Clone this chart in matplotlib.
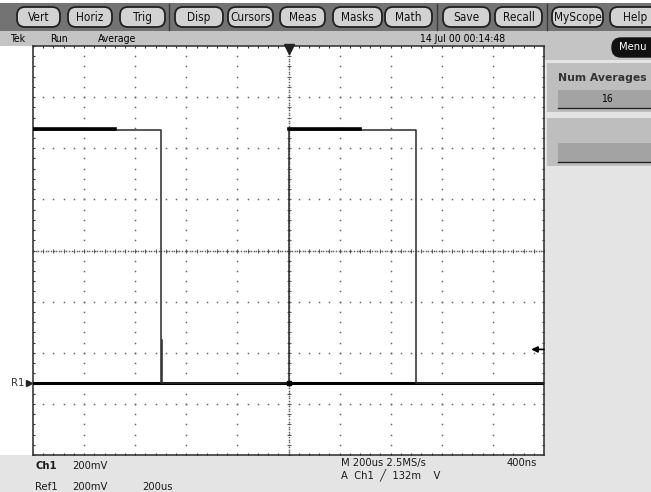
import matplotlib
matplotlib.use("Agg")
import matplotlib.pyplot as plt
from matplotlib.patches import Rectangle, FancyBboxPatch
import numpy as np

# ---- waveform data (time in us, level in V) ----
ch1_time = [-1000, -500, -500, 0, 0, 500, 500, 1000]
ch1_volts = [0.99, 0.99, 0.0, 0.0, 0.99, 0.99, 0.0, 0.0]
glitch_time = [-496, -496]
glitch_volts = [0.0, 0.168]
noise_spans = [(-1000, -680), (0, 280)]
noise_level = 0.997
ref1_time = [-1000, 1000]
ref1_volts = [0.0, 0.0]
trig_level = 0.133

buttons = ["Vert", "Horiz", "Trig", "Disp", "Cursors", "Meas",
           "Masks", "Math", "Save", "Recall", "MyScope", "Help"]
button_x = [(17, 60), (68, 112), (120, 165), (175, 223), (228, 273),
            (280, 325), (333, 382), (385, 432), (443, 490), (495, 542),
            (552, 603), (610, 660)]
separators = [169, 437, 547]

W, H = 651, 492
XLIM = (-1000, 1000)
YLIM = (-0.28, 1.32)
FONT = dict(family="DejaVu Sans", fontstretch="condensed")

fig = plt.figure(figsize=(W / 100, H / 100), dpi=100, facecolor="white")

# background canvas in pixel units
bg = fig.add_axes([0, 0, 1, 1])
bg.set_xlim(0, W)
bg.set_ylim(H, 0)
bg.axis("off")


def rect(x0, y0, x1, y1, color, **kw):
    bg.add_patch(Rectangle((x0, y0), x1 - x0, y1 - y0, facecolor=color,
                           edgecolor=kw.pop("ec", "none"), **kw))


# top button bar
rect(0, 3, W, 31, "#737373")
for name, (x0, x1) in zip(buttons, button_x):
    bg.add_patch(FancyBboxPatch((x0, 7), x1 - x0, 20,
                                boxstyle="round,pad=0,rounding_size=8",
                                facecolor="#d2d2d2", edgecolor="#202020", lw=1.3))
    bg.text((x0 + x1) / 2, 17.5, name, ha="center", va="center",
            fontsize=8.5, color="#111111", **FONT)
for sx in separators:
    bg.plot([sx, sx], [4, 30], color="#3a3a3a", lw=1)

# status line
rect(0, 31, W, 46, "#c4c4c4")
bg.text(10, 39, "Tek", fontsize=7.5, va="center", **FONT)
bg.text(50, 39, "Run", fontsize=7.5, va="center", **FONT)
bg.text(98, 39, "Average", fontsize=7.5, va="center", **FONT)
bg.text(420, 39, "14 Jul 00 00:14:48", fontsize=7.5, va="center", **FONT)

# right panel
rect(544, 46, W, 455, "#e4e4e4")
rect(544, 46, W, 60, "#c4c4c4")
bg.add_patch(FancyBboxPatch((612, 38), 60, 19,
                            boxstyle="round,pad=0,rounding_size=9",
                            facecolor="#111111", edgecolor="#111111"))
bg.text(619, 47.5, "Menu", color="white", fontsize=8, va="center", **FONT)

rect(547, 63, W, 112, "#bebebe")
bg.text(558, 78, "Num Averages", fontsize=7.8, fontweight="bold",
        color="#333333", va="center")
rect(558, 90, W, 108, "#a3a3a3")
bg.plot([558, W], [108, 108], color="#222222", lw=1)
bg.text(607, 99, "16", fontsize=7.5, ha="center", va="center", **FONT)

rect(547, 118, W, 166, "#bebebe")
rect(558, 143, W, 162, "#a3a3a3")
bg.plot([558, W], [162, 162], color="#222222", lw=1)

# bottom readout panel
rect(0, 455, W, H, "#e4e4e4")
bot = dict(fontsize=8, va="center", color="#1a1a1a", **FONT)
bg.text(35, 466, "Ch1", fontweight="bold", **bot)
bg.text(72, 466, "200mV", **bot)
bg.text(35, 487, "Ref1", **bot)
bg.text(72, 487, "200mV", **bot)
bg.text(142, 487, "200us", **bot)
bg.text(341, 463, "M 200us 2.5MS/s", **bot)
bg.text(507, 463, "400ns", **bot)
bg.text(341, 475, "A  Ch1  \u2571  132m    V", **bot)

# ---- graticule axes ----
ax = fig.add_axes([33 / W, (H - 455) / H, 511 / W, 409 / H])
ax.set_facecolor("white")
ax.set_xlim(*XLIM)
ax.set_ylim(*YLIM)
ax.set_xticks([])
ax.set_yticks([])
for s in ax.spines.values():
    s.set_color("#3a3a3a")
    s.set_linewidth(1.2)

xdiv, ydiv = 200, 0.2
xminor = np.arange(XLIM[0], XLIM[1] + 1, xdiv / 5)
yminor = YLIM[0] + np.arange(41) * ydiv / 5
xcenter = 0
ycenter = YLIM[0] + 4 * ydiv
dot = dict(ls="none", marker="s", markersize=1.1, color="#666666", mew=0)

for k in range(1, 10):
    gx = XLIM[0] + k * xdiv
    if k == 5:
        continue
    ax.plot(np.full(len(yminor) - 2, gx), yminor[1:-1], **dot)
for j in range(1, 8):
    gy = YLIM[0] + j * ydiv
    if j == 4:
        continue
    ax.plot(xminor[1:-1], np.full(len(xminor) - 2, gy), **dot)

# center cross with minor ticks
fine_y = np.linspace(YLIM[0], YLIM[1], 160)
fine_x = np.linspace(XLIM[0], XLIM[1], 200)
ax.plot(np.full(fine_y.size, xcenter), fine_y, **dot)
ax.plot(fine_x, np.full(fine_x.size, ycenter), **dot)
ax.plot(xminor, np.full(xminor.size, ycenter), ls="none", marker="|",
        markersize=3.5, color="#555555", mew=0.7)
ax.plot(np.full(yminor.size, xcenter), yminor, ls="none", marker="_",
        markersize=3.5, color="#555555", mew=0.7)

# border ticks
for by in YLIM:
    ax.plot(xminor, np.full(xminor.size, by), ls="none", marker="|",
            markersize=3, color="#333333", mew=0.8)
for bx in XLIM:
    ax.plot(np.full(yminor.size, bx), yminor, ls="none", marker="_",
            markersize=3, color="#333333", mew=0.8)

# waveforms
ax.plot(ref1_time, ref1_volts, color="#000000", lw=2.2, zorder=5)
ax.plot(ch1_time, ch1_volts, color="#2a2a2a", lw=1.1, zorder=6)
ax.plot(glitch_time, glitch_volts, color="#2a2a2a", lw=1.1, zorder=6)
for t0, t1 in noise_spans:
    ax.plot([t0, t1], [noise_level, noise_level], color="#000000", lw=2.6,
            zorder=6)
ax.plot([0], [0], marker="s", markersize=3.5, color="black", zorder=7)

# markers: trigger position, trigger level, R1 reference
ax.plot([xcenter], [YLIM[1] - 0.012], marker="v", markersize=7,
        color="#222222", clip_on=False, zorder=8)
ax.annotate("", xy=(950, trig_level), xytext=(1000, trig_level),
            arrowprops=dict(arrowstyle="-|>", color="black", lw=1.2,
                            mutation_scale=9, shrinkA=0, shrinkB=0))
ytr = ax.get_yaxis_transform()
ax.text(-0.017, 0, "R1", transform=ytr, ha="right", va="center",
        fontsize=8, color="#333333", **FONT)
ax.plot([-0.008], [0], transform=ytr, marker=">", markersize=5,
        color="#222222", clip_on=False)

fig.savefig("out.png", dpi=100, facecolor="white")
